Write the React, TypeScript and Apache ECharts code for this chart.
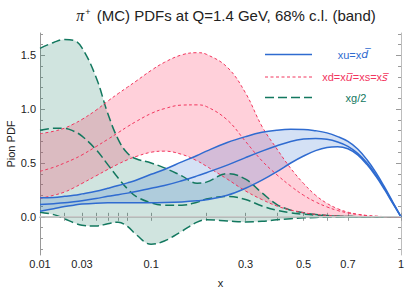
import React, { useEffect, useRef } from 'react';
import * as echarts from 'echarts';

// power used for the x-axis scale (the reference axis is spaced like x^0.352)
const P = 0.352;
const T = (x: number) => Math.pow(x, P);

const xs = [0.01, 0.015, 0.02, 0.025, 0.03, 0.04, 0.05, 0.06, 0.07, 0.08, 0.1, 0.12, 0.15, 0.18, 0.2, 0.25, 0.3, 0.35, 0.4, 0.45, 0.5, 0.55, 0.6, 0.65, 0.7, 0.75, 0.8, 0.85, 0.9, 0.95, 1.0];

// xg/2 band
const gluonUpper = [1.565, 1.62, 1.648, 1.64, 1.57, 1.3, 0.96, 0.72, 0.59, 0.54, 0.5, 0.455, 0.38, 0.312, 0.322, 0.4, 0.35, 0.222, 0.114, 0.062, 0.037, 0.022, 0.012, 0.006, 0.003, 0.001, 0, 0, 0, 0, 0];
const gluonCentral = [0.805, 0.822, 0.822, 0.795, 0.75, 0.625, 0.485, 0.36, 0.26, 0.19, 0.13, 0.108, 0.108, 0.135, 0.165, 0.19, 0.16, 0.1, 0.06, 0.037, 0.024, 0.015, 0.009, 0.005, 0.003, 0.001, 0, 0, 0, 0, 0];
const gluonLower = [0.043, 0.02, -0.018, -0.055, -0.078, -0.086, -0.065, -0.05, -0.09, -0.165, -0.255, -0.225, -0.135, -0.05, -0.028, -0.038, -0.048, -0.042, -0.028, -0.017, -0.01, -0.006, -0.003, -0.001, 0, 0, 0, 0, 0, 0, 0];

// xd = xubar = xs = xsbar band
const seaUpper = [0.772, 0.795, 0.824, 0.864, 0.905, 0.99, 1.075, 1.145, 1.205, 1.26, 1.36, 1.435, 1.505, 1.525, 1.51, 1.39, 1.15, 0.84, 0.63, 0.45, 0.31, 0.2, 0.125, 0.075, 0.043, 0.024, 0.012, 0.005, 0.002, 0, 0];
const seaCentral = [0.423, 0.46, 0.5, 0.537, 0.575, 0.652, 0.72, 0.782, 0.838, 0.885, 0.96, 1.005, 1.038, 1.04, 1.025, 0.9, 0.7, 0.52, 0.39, 0.285, 0.2, 0.138, 0.092, 0.058, 0.036, 0.021, 0.011, 0.005, 0.002, 0, 0];
const seaLower = [0.17, 0.2, 0.23, 0.27, 0.31, 0.38, 0.44, 0.49, 0.53, 0.56, 0.6, 0.61, 0.58, 0.52, 0.47, 0.35, 0.24, 0.16, 0.1, 0.062, 0.038, 0.022, 0.013, 0.007, 0.004, 0.002, 0.001, 0, 0, 0, 0];

// xu = xdbar band
const valUpper = [0.176, 0.18, 0.19, 0.2, 0.213, 0.238, 0.265, 0.29, 0.315, 0.34, 0.395, 0.44, 0.51, 0.57, 0.61, 0.69, 0.745, 0.785, 0.805, 0.813, 0.812, 0.8, 0.78, 0.745, 0.7, 0.63, 0.53, 0.41, 0.275, 0.135, 0];
const valCentral = [0.114, 0.122, 0.13, 0.14, 0.15, 0.17, 0.19, 0.205, 0.22, 0.235, 0.265, 0.29, 0.335, 0.38, 0.41, 0.48, 0.55, 0.61, 0.66, 0.7, 0.722, 0.728, 0.72, 0.695, 0.655, 0.59, 0.5, 0.39, 0.262, 0.128, 0];
const valLower = [0.052, 0.075, 0.095, 0.108, 0.118, 0.127, 0.13, 0.13, 0.13, 0.13, 0.13, 0.132, 0.138, 0.148, 0.158, 0.2, 0.265, 0.34, 0.42, 0.5, 0.565, 0.615, 0.645, 0.652, 0.632, 0.575, 0.485, 0.375, 0.252, 0.122, 0];

const zeroLineX = [0.01, 1];
const zeroLineY = [0, 0];

const xTickValues = [0.01, 0.02, 0.03, 0.04, 0.05, 0.06, 0.07, 0.1, 0.2, 0.3, 0.4, 0.5, 0.6, 0.7, 1];
const xLabelValues = [0.01, 0.03, 0.1, 0.3, 0.5, 0.7, 1];
const xLabelTexts = ['0.01', '0.03', '0.1', '0.3', '0.5', '0.7', '1'];
const yMajorValues = [0, 0.5, 1, 1.5];
const yLabelTexts = ['0.0', '0.5', '1.0', '1.5'];
const yMinorValues = [-0.3, -0.2, -0.1, 0.1, 0.2, 0.3, 0.4, 0.6, 0.7, 0.8, 0.9, 1.1, 1.2, 1.3, 1.4, 1.6, 1.7];

const Y_MIN = -0.355;
const Y_MAX = 1.708;
const SMOOTH = 0.4;

const BLUE = '#2f6bd0';
const RED = '#f2365e';
const GREEN = '#13785f';
const FONT = 'Liberation Sans';

const r = (v: number) => Math.round(v * 100) / 100;

function smoothPath(pts: number[][], s: number, start: boolean): string {
  let d = (start ? 'M' : 'L') + r(pts[0][0]) + ' ' + r(pts[0][1]);
  let c0x = pts[0][0];
  let c0y = pts[0][1];
  for (let i = 1; i < pts.length; i++) {
    const x = pts[i][0];
    const y = pts[i][1];
    const px = pts[i - 1][0];
    const py = pts[i - 1][1];
    let c1x = x, c1y = y, n0x = x, n0y = y;
    if (i < pts.length - 1) {
      const nx = pts[i + 1][0];
      const ny = pts[i + 1][1];
      const l0 = Math.hypot(x - px, y - py);
      const l1 = Math.hypot(nx - x, ny - y);
      if (l0 > 1e-6 && l1 > 1e-6) {
        const vx = nx - px;
        const vy = ny - py;
        const k = l1 / (l0 + l1);
        n0x = x + vx * s * k;
        n0y = y + vy * s * k;
        n0x = Math.max(Math.min(n0x, Math.max(nx, x)), Math.min(nx, x));
        n0y = Math.max(Math.min(n0y, Math.max(ny, y)), Math.min(ny, y));
        let ax = n0x - x;
        let ay = n0y - y;
        c1x = x - ax * l0 / l1;
        c1y = y - ay * l0 / l1;
        c1x = Math.max(Math.min(c1x, Math.max(px, x)), Math.min(px, x));
        c1y = Math.max(Math.min(c1y, Math.max(py, y)), Math.min(py, y));
        ax = x - c1x;
        ay = y - c1y;
        n0x = x + ax * l1 / l0;
        n0y = y + ay * l1 / l0;
      }
    }
    d += ' C' + r(c0x) + ' ' + r(c0y) + ' ' + r(c1x) + ' ' + r(c1y) + ' ' + r(x) + ' ' + r(y);
    c0x = n0x;
    c0y = n0y;
  }
  return d;
}

function bandSeries(name: string, lower: number[], upper: number[], fill: string) {
  return {
    type: 'custom',
    name,
    silent: true,
    coordinateSystem: 'cartesian2d',
    xAxisIndex: 0,
    yAxisIndex: 0,
    data: xs.map((x, i) => [T(x), lower[i], upper[i]]),
    encode: { x: 0, y: [1, 2] },
    renderItem: (params: any, api: any) => {
      if (params.dataIndexInside !== 0) return null;
      const n = params.dataInsideLength;
      const up: number[][] = [];
      const lo: number[][] = [];
      for (let j = 0; j < n; j++) {
        up.push(api.coord([api.value(0, j), api.value(2, j)]));
        lo.push(api.coord([api.value(0, j), api.value(1, j)]));
      }
      lo.reverse();
      const d = smoothPath(up, SMOOTH, true) + ' ' + smoothPath(lo, SMOOTH, false) + ' Z';
      return { type: 'path', shape: { pathData: d }, style: { fill, stroke: 'none' } };
    },
  };
}

function curveSeries(name: string, values: number[], color: string, width: number, dash: number[] | null) {
  return {
    type: 'custom',
    name,
    silent: true,
    coordinateSystem: 'cartesian2d',
    xAxisIndex: 0,
    yAxisIndex: 0,
    data: xs.map((x, i) => [T(x), values[i]]),
    encode: { x: 0, y: 1 },
    renderItem: (params: any, api: any) => {
      if (params.dataIndexInside !== 0) return null;
      const n = params.dataInsideLength;
      const pts: number[][] = [];
      for (let j = 0; j < n; j++) pts.push(api.coord([api.value(0, j), api.value(1, j)]));
      const style: any = { fill: 'none', stroke: color, lineWidth: width, lineCap: 'butt' };
      if (dash) style.lineDash = dash;
      return { type: 'path', shape: { pathData: smoothPath(pts, SMOOTH, true) }, style };
    },
  };
}

function xLabel(v: number) {
  const x = Math.pow(v, 1 / P);
  let best = 0;
  for (let i = 1; i < xLabelValues.length; i++) {
    if (Math.abs(Math.log(xLabelValues[i] / x)) < Math.abs(Math.log(xLabelValues[best] / x))) best = i;
  }
  return xLabelTexts[best];
}

function yLabel(v: number) {
  let best = 0;
  for (let i = 1; i < yMajorValues.length; i++) {
    if (Math.abs(yMajorValues[i] - v) < Math.abs(yMajorValues[best] - v)) best = i;
  }
  return yLabelTexts[best];
}

export default function App() {
  const ref = useRef<HTMLDivElement>(null);
  useEffect(() => {
    if (!ref.current) return;
    document.body.style.margin = '0';
    const chart = echarts.init(ref.current, null, { renderer: 'svg' });
    const xMin = T(0.01);
    const tickStyle = { color: '#9a9a9a', width: 1 };
    const option: any = {
      animation: false,
      textStyle: { fontFamily: FONT },
      title: {
        text: '{i|π}{s|+} (MC) PDFs at Q=1.4 GeV, 68% c.l. (band)',
        left: 221,
        top: 2,
        textAlign: 'center',
        textStyle: {
          fontFamily: FONT,
          fontSize: 15,
          fontWeight: 'normal',
          color: '#222',
          rich: {
            i: { fontFamily: 'Liberation Serif', fontStyle: 'italic', fontSize: 16, color: '#222' },
            s: { fontFamily: FONT, fontSize: 9, color: '#222', verticalAlign: 'top', padding: [0, 2, 0, 1] },
          },
        },
      },
      grid: { left: 40, right: 4, top: 33, bottom: 35, containLabel: false, outerBoundsMode: 'none' },
      xAxis: [
        {
          type: 'value',
          position: 'bottom',
          min: xMin,
          max: 1,
          axisLine: { show: true, lineStyle: { color: '#999', width: 1 } },
          axisTick: { show: true, inside: true, length: 4, customValues: xTickValues.map(T), lineStyle: tickStyle },
          axisLabel: {
            show: true,
            customValues: xLabelValues.map(T),
            formatter: xLabel,
            color: '#222',
            fontSize: 11,
            fontFamily: FONT,
            margin: 3,
          },
          splitLine: { show: false },
          name: 'x',
          nameLocation: 'middle',
          nameGap: 22,
          nameMoveOverlap: false,
          nameTextStyle: { color: '#222', fontSize: 11, fontFamily: FONT },
        },
        {
          type: 'value',
          position: 'top',
          min: xMin,
          max: 1,
          axisLine: { show: true, lineStyle: { color: '#c8c8c8', width: 1.5 } },
          axisTick: { show: true, inside: true, length: 4, customValues: xTickValues.map(T), lineStyle: tickStyle },
          axisLabel: { show: false },
          splitLine: { show: false },
        },
      ],
      yAxis: [
        {
          type: 'value',
          position: 'left',
          min: Y_MIN,
          max: Y_MAX,
          axisLine: { show: true, lineStyle: { color: '#999', width: 1 } },
          axisTick: { show: true, inside: true, length: 5, customValues: yMajorValues, lineStyle: tickStyle },
          axisLabel: {
            show: true,
            customValues: yMajorValues,
            formatter: yLabel,
            color: '#222',
            fontSize: 11,
            fontFamily: FONT,
            margin: 4,
          },
          splitLine: { show: false },
          name: 'Pion PDF',
          nameLocation: 'middle',
          nameGap: 24,
          nameMoveOverlap: false,
          nameTextStyle: { color: '#222', fontSize: 11, fontFamily: FONT },
        },
        {
          type: 'value',
          position: 'left',
          min: Y_MIN,
          max: Y_MAX,
          axisLine: { show: false },
          axisTick: { show: true, inside: true, length: 3, customValues: yMinorValues, lineStyle: tickStyle },
          axisLabel: { show: false },
          splitLine: { show: false },
        },
        {
          type: 'value',
          position: 'right',
          min: Y_MIN,
          max: Y_MAX,
          axisLine: { show: true, lineStyle: { color: '#bdbdbd', width: 1 } },
          axisTick: { show: true, inside: true, length: 5, customValues: yMajorValues, lineStyle: tickStyle },
          axisLabel: { show: false },
          splitLine: { show: false },
        },
        {
          type: 'value',
          position: 'right',
          min: Y_MIN,
          max: Y_MAX,
          axisLine: { show: false },
          axisTick: { show: true, inside: true, length: 3, customValues: yMinorValues, lineStyle: tickStyle },
          axisLabel: { show: false },
          splitLine: { show: false },
        },
      ],
      series: [
        {
          type: 'line',
          name: 'zero',
          silent: true,
          xAxisIndex: 0,
          yAxisIndex: 0,
          data: zeroLineX.map((x, i) => [T(x), zeroLineY[i]]),
          symbol: 'none',
          lineStyle: { color: '#c9c9c9', width: 1.5 },
        },
        bandSeries('xg/2 band', gluonLower, gluonUpper, 'rgba(20,120,95,0.2)'),
        bandSeries('sea band', seaLower, seaUpper, 'rgba(255,60,100,0.24)'),
        bandSeries('valence band', valLower, valUpper, 'rgba(60,120,210,0.22)'),
        curveSeries('xg/2 upper', gluonUpper, GREEN, 1.5, [9, 4]),
        curveSeries('xg/2', gluonCentral, GREEN, 1.5, [9, 4]),
        curveSeries('xg/2 lower', gluonLower, GREEN, 1.5, [9, 4]),
        curveSeries('sea upper', seaUpper, RED, 1, [3, 2.5]),
        curveSeries('sea', seaCentral, RED, 1, [3, 2.5]),
        curveSeries('sea lower', seaLower, RED, 1, [3, 2.5]),
        curveSeries('valence upper', valUpper, BLUE, 1.5, null),
        curveSeries('valence', valCentral, BLUE, 1.5, null),
        curveSeries('valence lower', valLower, BLUE, 1.5, null),
      ],
      graphic: [
        { type: 'line', shape: { x1: 265, y1: 54.5, x2: 312, y2: 54.5 }, style: { stroke: BLUE, lineWidth: 1.5 }, silent: true },
        { type: 'line', shape: { x1: 265, y1: 77, x2: 312, y2: 77 }, style: { stroke: RED, lineWidth: 1, lineDash: [3, 2.5] }, silent: true },
        { type: 'line', shape: { x1: 265, y1: 97.5, x2: 312, y2: 97.5 }, style: { stroke: GREEN, lineWidth: 1.5, lineDash: [9, 4] }, silent: true },
        {
          type: 'text', x: 353, y: 54.5, silent: true,
          style: {
            text: '{n|xu=x}{i|d\u0305}', align: 'center', verticalAlign: 'middle', fill: BLUE,
            rich: { n: { fill: BLUE, fontFamily: FONT, fontSize: 11 }, i: { fill: BLUE, fontFamily: 'DejaVu Sans', fontStyle: 'italic', fontSize: 11 } },
          },
        },
        {
          type: 'text', x: 355, y: 77, silent: true,
          style: {
            text: '{n|xd=x}{i|u\u0305}{n|=xs=x}{i|s\u0305}', align: 'center', verticalAlign: 'middle', fill: RED,
            rich: { n: { fill: RED, fontFamily: FONT, fontSize: 11 }, i: { fill: RED, fontFamily: 'DejaVu Sans', fontStyle: 'italic', fontSize: 11 } },
          },
        },
        {
          type: 'text', x: 356, y: 97.5, silent: true,
          style: { text: 'xg/2', align: 'center', verticalAlign: 'middle', fill: GREEN, fontFamily: FONT, fontSize: 11 },
        },
      ],
    };
    chart.setOption(option);
    return () => chart.dispose();
  }, []);
  return <div ref={ref} style={{ width: 405, height: 290 }} />;
}
